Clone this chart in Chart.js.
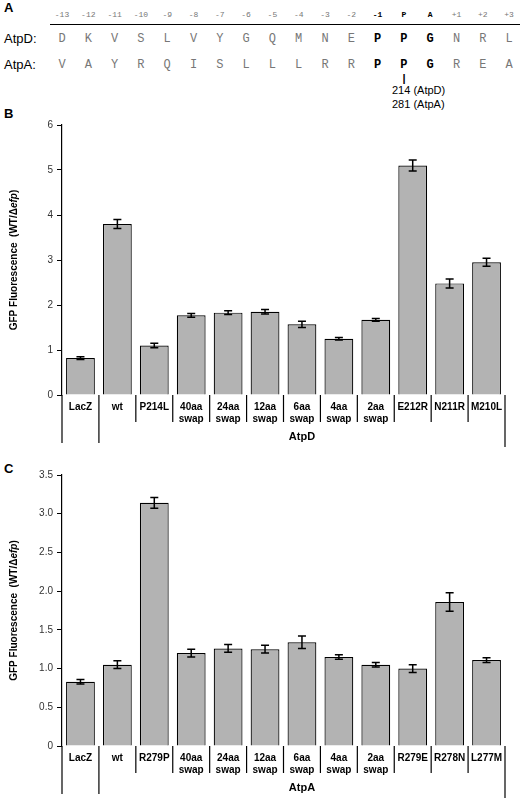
<!DOCTYPE html>
<html><head><meta charset="utf-8">
<script src="https://cdn.jsdelivr.net/npm/chart.js@4"></script>
<style>
body{margin:0;width:525px;height:800px;position:relative;background:#fff;font-family:Arial,"Liberation Sans",sans-serif;overflow:hidden}
.t{position:absolute;transform:translateX(-50%);white-space:nowrap}
.m{font-family:"Liberation Mono","DejaVu Sans Mono",monospace;color:#777}
.pl{position:absolute;font-weight:bold;font-size:13px}
canvas{position:absolute;left:0}
</style></head><body>
<div class="pl" style="left:4px;top:0px">A</div>
<div class="pl" style="left:4px;top:106px">B</div>
<div class="pl" style="left:4px;top:461px">C</div>
<div style="position:absolute;left:50px;top:24px;width:470px;border-top:1px solid #000"></div>
<div id="seq"></div>
<canvas id="cb" width="525" height="355" style="top:110px"></canvas>
<canvas id="cc" width="525" height="335" style="top:465px"></canvas>
<script>
const positions=['-13','-12','-11','-10','-9','-8','-7','-6','-5','-4','-3','-2','-1','P','A','+1','+2','+3'];
const seqD=['D','K','V','S','L','V','Y','G','Q','M','N','E','P','P','G','N','R','L'];
const seqA=['V','A','Y','R','Q','I','S','L','L','L','R','R','P','P','G','R','E','A'];

const catsB=['LacZ','wt','P214L','40aa\nswap','24aa\nswap','12aa\nswap','6aa\nswap','4aa\nswap','2aa\nswap','E212R','N211R','M210L'];
const valsB=[0.82,3.8,1.1,1.77,1.83,1.85,1.57,1.25,1.67,5.1,2.48,2.95];
const errB=[0.03,0.1,0.05,0.04,0.04,0.05,0.07,0.03,0.03,0.12,0.1,0.09];
const ticksB=[0,1,2,3,4,5,6];
const catsC=['LacZ','wt','R279P','40aa\nswap','24aa\nswap','12aa\nswap','6aa\nswap','4aa\nswap','2aa\nswap','R279E','R278N','L277M'];
const valsC=[0.83,1.05,3.14,1.2,1.26,1.25,1.34,1.15,1.05,1.0,1.86,1.11];
const errC=[0.03,0.05,0.07,0.05,0.05,0.05,0.08,0.03,0.03,0.05,0.12,0.03];
const ticksC=[0,0.5,1,1.5,2,2.5,3,3.5];

// panel A
const seq=document.getElementById('seq');
function add(txt,x,y,cls,st){const d=document.createElement('div');d.className='t '+(cls||'');d.style.left=x+'px';d.style.top=y+'px';d.style.cssText+=st||'';d.textContent=txt;seq.appendChild(d);}
positions.forEach((p,i)=>{const x=62+i*26.3;const b=(i>=12&&i<=14);
 add(p,x,10,'m','font-size:8px;'+(b?'font-weight:bold;color:#000':''));
 add(seqD[i],x,32,'m','font-size:12px;'+(b?'font-weight:bold;color:#000':''));
 add(seqA[i],x,58,'m','font-size:12px;'+(b?'font-weight:bold;color:#000':''));});
add('AtpD:',-1000,0);
const lab=(t,y)=>{const d=document.createElement('div');d.style.cssText='position:absolute;left:4px;top:'+y+'px;font-size:13px';d.textContent=t;seq.appendChild(d);};
lab('AtpD:',31);lab('AtpA:',57);
add('|',404,72,'','font-size:11px;font-weight:bold');
add('214 (AtpD)',421,84,'','font-size:11px;transform:none;left:392px');
add('281 (AtpA)',421,98,'','font-size:11px;transform:none;left:392px');

const deco={id:'deco',afterDraw(ch,a,o){
 const c=ch.ctx,x=ch.scales.x,y=ch.scales.y,ca=ch.chartArea;
 const errs=o.errs;c.save();c.strokeStyle='#000';c.lineWidth=1.5;
 ch.data.datasets[0].data.forEach((v,i)=>{const px=x.getPixelForValue(i),t=y.getPixelForValue(v+errs[i]),b=y.getPixelForValue(v-errs[i]);
  c.beginPath();c.moveTo(px,t);c.lineTo(px,b);c.moveTo(px-4,t);c.lineTo(px+4,t);c.moveTo(px-4,b);c.lineTo(px+4,b);c.stroke();});
 // category labels and separators
 const n=ch.data.labels.length,w=(ca.right-ca.left)/n;c.lineWidth=1.2;
 c.font='bold 10px Arial';c.fillStyle='#000';c.textAlign='center';c.textBaseline='top';
 ch.data.labels.forEach((l,i)=>{const px=x.getPixelForValue(i);l.split('\n').forEach((s,k)=>c.fillText(s,px,ca.bottom+7+k*12));});
 for(let i=0;i<=n;i++){const px=ca.left+i*w;let len=(i<=1)?48:(i==n?52:27);
  c.beginPath();c.moveTo(px,ca.bottom);c.lineTo(px,ca.bottom+len);c.stroke();}
 c.font='bold 11px Arial';c.fillText(o.group,(ca.left+w+ca.right)/2,ca.bottom+36);
 // axis title
 c.translate(14,(ca.top+ca.bottom)/2);c.rotate(-Math.PI/2);c.font='bold 10px Arial';c.textBaseline='middle';
 const p1='GFP Fluorescence  (WT/\u0394',p2='efp',p3=')';c.font='bold 10px Arial';const w1=c.measureText(p1).width,w3=c.measureText(p3).width;
 c.font='bold italic 10px Arial';const w2=c.measureText(p2).width;let sx=-(w1+w2+w3)/2;c.textAlign='left';
 c.font='bold 10px Arial';c.fillText(p1,sx,0);c.font='bold italic 10px Arial';c.fillText(p2,sx+w1,0);c.font='bold 10px Arial';c.fillText(p3,sx+w1+w2,0);
 c.restore();}};

function make(id,cats,vals,errs,ticks,max,pad,group){
 new Chart(document.getElementById(id),{type:'bar',
 data:{labels:cats,datasets:[{data:vals,backgroundColor:'#b3b3b3',borderColor:'#000',borderWidth:1.2,categoryPercentage:1,barPercentage:0.78}]},
 options:{responsive:false,animation:false,layout:{padding:pad},
  plugins:{legend:{display:false},tooltip:{enabled:false},deco:{errs,group}},
  scales:{x:{display:false},
   y:{min:0,max:max,afterFit:s=>{s.width=62-pad.left;},afterBuildTicks:s=>{s.ticks=ticks.map(v=>({value:v}));},
    ticks:{color:'#333',font:{size:10,family:'Arial'},padding:4},
    grid:{drawOnChartArea:false,tickLength:5,color:'#000'},border:{color:'#000',width:1.2}}}},
 plugins:[deco]});}
make('cb',catsB,valsB,errB,ticksB,6,{top:15,bottom:70,right:20,left:0},'AtpD');
make('cc',catsC,valsC,errC,ticksC,3.5,{top:10,bottom:54,right:20,left:0},'AtpA');
</script></body></html>
